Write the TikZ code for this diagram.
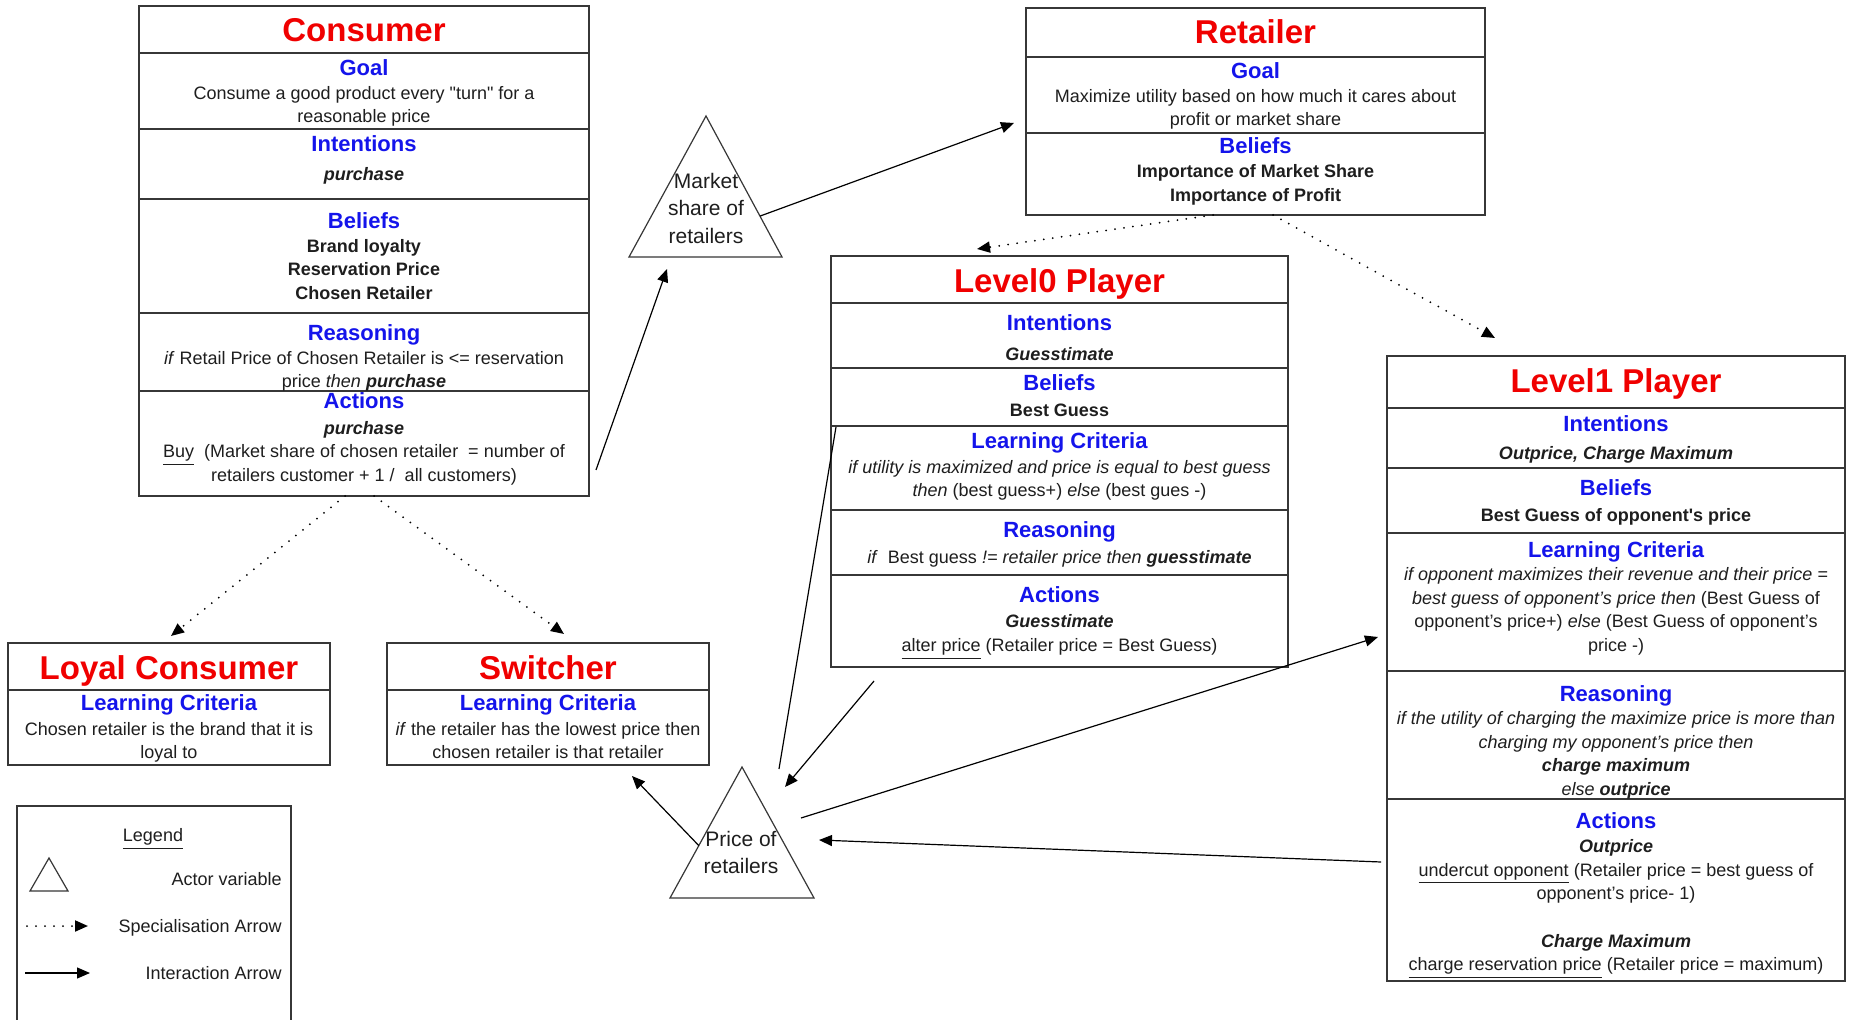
\documentclass[tikz,border=0pt]{standalone}
\usepackage{fontspec}
\setmainfont{Liberation Sans}
\newfontfamily\rawsans{Liberation Sans}
\usetikzlibrary{arrows.meta,calc}
\definecolor{titlered}{RGB}{240,0,0}
\definecolor{headblue}{RGB}{20,20,235}
\definecolor{ink}{RGB}{30,30,30}
\definecolor{edge}{RGB}{55,55,55}

\begin{document}
\begin{tikzpicture}[x=0.5pt,y=-0.5pt,
  box/.style={draw=edge, line width=0.75pt, inner sep=0pt, outer sep=0pt, anchor=north west},
  sep/.style={draw=edge, line width=0.75pt},
  title/.style={text=titlered, font=\bfseries\fontsize{16.5}{19}\selectfont, inner sep=0pt,
    text height=12pt, text depth=3.5pt, yshift=-1.75pt},
  head/.style={text=headblue, font=\bfseries\fontsize{11}{13}\selectfont, inner sep=0pt,
    text height=8pt, text depth=2.3pt, yshift=-0.75pt},
  body/.style={text=ink, font=\fontsize{9}{11.8}\selectfont, align=center, inner sep=0pt,
    yshift=-1.5pt, execute at begin node={\strut}, execute at end node={\strut}},
  bodyb/.style={body, font=\bfseries\fontsize{9}{11.8}\selectfont},
  tri/.style={draw=edge, line width=0.6pt, line join=miter},
  tritext/.style={text=ink, font=\fontsize{10.5}{13.75}\selectfont, align=center, inner sep=0pt},
  inter/.style={draw=black, line width=0.6pt, -{Triangle[length=6.5pt,width=5.5pt]}},
  plainline/.style={draw=black, line width=0.6pt},
  spec/.style={draw=black, line width=1pt, line cap=round, dash pattern=on 0pt off 4.5pt,
    -{Triangle[length=6.5pt,width=5.5pt]}},
]
\fill[white] (0,0) rectangle (1850,1020);
\useasboundingbox (0,0) rectangle (1850,1020);

% ---------- Consumer ----------
\node[box, minimum width=225pt, minimum height=245pt] (consumer) at (139,6) {};
\foreach \yy in {53,129,199,313,391} \draw[sep] (139,\yy) -- (589,\yy);
\node[title] (cons-t) at (364,29.5) {Consumer};
\node[head] (cons-gh) at (364,68) {Goal};
\node[body] (cons-g) at (364,105) {Consume a good product every {\rawsans"turn"} for a\\reasonable price};
\node[head] (cons-ih) at (364,144) {Intentions};
\node[body] (cons-i) at (364,173) {\textbf{\textit{purchase}}};
\node[head] (cons-bh) at (364,221) {Beliefs};
\node[bodyb] (cons-b) at (364,270) {Brand loyalty\\Reservation Price\\Chosen Retailer};
\node[head] (cons-rh) at (364,333) {Reasoning};
\node[body] (cons-r) at (364,370) {\textit{if} Retail Price of Chosen Retailer is <= reservation\\price \textit{then} \textbf{\textit{purchase}}};
\node[head] (cons-ah) at (364,401) {Actions};
\node[body] (cons-a) at (364,452) {\textbf{\textit{purchase}}\\\underline{Buy}\ \ (Market share of chosen retailer \ = number of\\retailers customer + 1 / \ all customers)};

% ---------- Retailer ----------
\node[box, minimum width=229.5pt, minimum height=103.5pt] (retailer) at (1026,8) {};
\foreach \yy in {57,133} \draw[sep] (1026,\yy) -- (1485,\yy);
\node[title] (ret-t) at (1255.5,32) {Retailer};
\node[head] (ret-gh) at (1255.5,71) {Goal};
\node[body] (ret-g) at (1255.5,108) {Maximize utility based on how much it cares about\\profit or market share};
\node[head] (ret-bh) at (1255.5,146) {Beliefs};
\node[bodyb] (ret-b) at (1255.5,183.5) {Importance of Market Share\\Importance of Profit};

% ---------- Level0 Player ----------
\node[box, minimum width=228.5pt, minimum height=205.5pt] (level0) at (831,256) {};
\foreach \yy in {303,368,426,510,575} \draw[sep] (831,\yy) -- (1288,\yy);
\node[title] (l0-t) at (1059.5,281) {Level0 Player};
\node[head] (l0-ih) at (1059.5,323) {Intentions};
\node[body] (l0-i) at (1059.5,353) {\textbf{\textit{Guesstimate}}};
\node[head] (l0-bh) at (1059.5,383) {Beliefs};
\node[body] (l0-b) at (1059.5,409) {\textbf{Best Guess}};
\node[head] (l0-lh) at (1059.5,441) {Learning Criteria};
\node[body] (l0-l) at (1059.5,479) {\textit{if utility is maximized and price is equal to best guess}\\\textit{then} (best guess+) \textit{else} (best gues -)};
\node[head] (l0-rh) at (1059.5,530) {Reasoning};
\node[body] (l0-r) at (1059.5,556) {\textit{if}\ \ Best guess \textit{!= retailer price then} \textbf{\textit{guesstimate}}};
\node[head] (l0-ah) at (1059.5,595) {Actions};
\node[body] (l0-a) at (1059.5,634) {\textbf{\textit{Guesstimate}}\\\underline{alter price} (Retailer price = Best Guess)};

% ---------- Level1 Player ----------
\node[box, minimum width=229pt, minimum height=312.5pt] (level1) at (1387,356) {};
\foreach \yy in {408,468,533,671,799} \draw[sep] (1387,\yy) -- (1845,\yy);
\node[title] (l1-t) at (1616,381) {Level1 Player};
\node[head] (l1-ih) at (1616,424) {Intentions};
\node[body] (l1-i) at (1616,452) {\textbf{\textit{Outprice, Charge Maximum}}};
\node[head] (l1-bh) at (1616,488) {Beliefs};
\node[body] (l1-b) at (1616,514) {\textbf{Best Guess of opponent{\rawsans'}s price}};
\node[head] (l1-lh) at (1616,550) {Learning Criteria};
\node[body] (l1-l) at (1616,610) {\textit{if opponent maximizes their revenue and their price =}\\\textit{best guess of opponent's price then} (Best Guess of\\opponent's price+) \textit{else} (Best Guess of opponent's\\price -)};
\node[head] (l1-rh) at (1616,694) {Reasoning};
\node[body] (l1-r) at (1616,754) {\textit{if the utility of charging the maximize price is more than}\\\textit{charging my opponent's price then}\\\textbf{\textit{charge maximum}}\\\textit{else} \textbf{\textit{outprice}}};
\node[head] (l1-ah) at (1616,821) {Actions};
\node[body] (l1-a) at (1616,906) {\textbf{\textit{Outprice}}\\\underline{undercut opponent} (Retailer price = best guess of\\opponent's price- 1)\\[11.8pt]\textbf{\textit{Charge Maximum}}\\\underline{charge reservation price} (Retailer price = maximum)};

% ---------- Loyal Consumer ----------
\node[box, minimum width=161pt, minimum height=61pt] (loyal) at (8,643) {};
\draw[sep] (8,690) -- (330,690);
\node[title] (loy-t) at (169,667) {Loyal Consumer};
\node[head] (loy-lh) at (169,703) {Learning Criteria};
\node[body] (loy-l) at (169,741) {Chosen retailer is the brand that it is\\loyal to};

% ---------- Switcher ----------
\node[box, minimum width=161pt, minimum height=61pt] (switcher) at (387,643) {};
\draw[sep] (387,690) -- (709,690);
\node[title] (sw-t) at (548,667) {Switcher};
\node[head] (sw-lh) at (548,703) {Learning Criteria};
\node[body] (sw-l) at (548,741) {\textit{if} the retailer has the lowest price then\\chosen retailer is that retailer};

% ---------- Actor variables (triangles) ----------
\coordinate (msapex) at (706,116);
\coordinate (msl) at (629,257);
\coordinate (msr) at (782,257);
\draw[tri] (msl) -- (msapex) -- (msr) -- cycle;
\node[tritext] (ms) at (706,208.5) {Market\\share of\\retailers};

\coordinate (prapex) at (742,767);
\coordinate (prl) at (670,898);
\coordinate (prr) at (814,898);
\draw[tri] (prl) -- (prapex) -- (prr) -- cycle;
\node[tritext] (price) at (741,852.5) {Price of\\retailers};

% ---------- Interaction arrows ----------
\draw[inter] ($(consumer.south east)+(7,-26)$) -- ($(msl)+(38,12)$);
\draw[inter] ($(msapex)!0.71!(msr)$) -- ($(retailer.north west)+(-12,115)$);
\draw[plainline] ($(prapex)+(37,2)$) -- ($(level0.north west)+(5,171)$);
\draw[inter] ($(level0.south west)+(43,14)$) -- ($(prapex)+(43,20)$);
\draw[inter] ($(prapex)+(59,51)$) -- ($(level1.north west)+(-9,281)$);
\draw[inter] ($(level1.north west)+(-6,506)$) -- ($(prapex)+(77,73)$);
\draw[inter] ($(prapex)!0.6!(prl)$) -- ($(switcher.south east)+(-77,11)$);

% ---------- Specialisation arrows ----------
\draw[spec] ($(consumer.south west)+(206,0)$) -- ($(loyal.north west)+(163,-7)$);
\draw[spec] ($(consumer.south west)+(235,0)$) -- ($(switcher.north west)+(177,-9)$);
\draw[spec] ($(retailer.south west)+(187,0)$) -- ($(level0.north west)+(146,-7)$);
\draw[spec] ($(retailer.south west)+(247,0)$) -- ($(level1.north west)+(108,-18)$);

% ---------- Legend ----------
\node[box, minimum width=137pt, minimum height=115pt] (legend) at (17,806) {};
\node[body] (leg-t) at (153,834) {\underline{Legend}};
\coordinate (lgapex) at (49,858);
\coordinate (lgl) at (30,891);
\coordinate (lgr) at (68,891);
\draw[tri] (lgl) -- (lgapex) -- (lgr) -- cycle;
\node[body, anchor=east] (leg-a) at (282,878) {Actor variable};
\coordinate (lgs1) at (27,926);
\coordinate (lgs2) at (88,926);
\draw[spec] (lgs1) -- (lgs2);
\node[body, anchor=east] (leg-s) at (282,925) {Specialisation Arrow};
\coordinate (lgi1) at (25,973);
\coordinate (lgi2) at (90,973);
\draw[inter] (lgi1) -- (lgi2);
\node[body, anchor=east] (leg-i) at (282,972) {Interaction Arrow};
\end{tikzpicture}
\end{document}
